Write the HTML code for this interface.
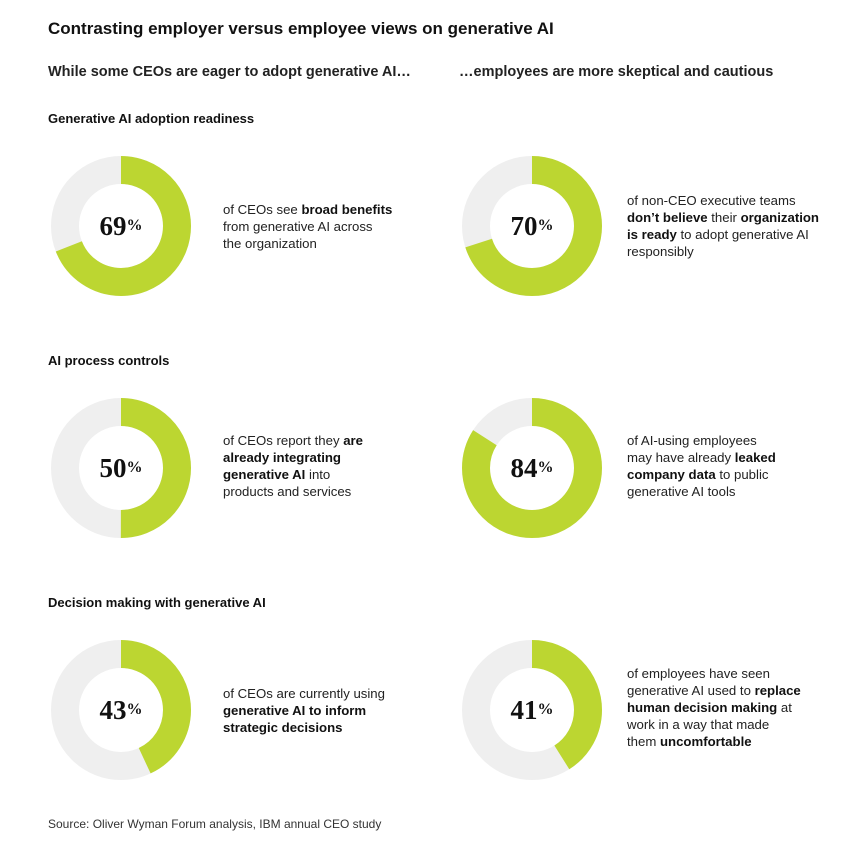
<!DOCTYPE html><html><head><style>
body{margin:0;width:862px;height:846px;background:#fff;font-family:"Liberation Sans",Arial,sans-serif;color:#111;position:relative;overflow:hidden}
.t{position:absolute;white-space:nowrap}
.d{position:absolute;font-size:13.2px;line-height:17px;color:#222}
.d b{color:#111}
.p{position:absolute;font-family:"Liberation Serif",serif;font-weight:bold;font-size:27px;width:100px;text-align:center;color:#111;line-height:30px}
.p small{font-size:16px;vertical-align:5px}
</style></head><body>
<div class="t" style="left:48px;top:19px;font-size:17px;font-weight:bold">Contrasting employer versus employee views on generative AI</div>
<div class="t" style="left:48px;top:64px;font-size:14.5px;font-weight:bold;color:#222">While some CEOs are eager to adopt generative AI…</div>
<div class="t" style="left:459px;top:64px;font-size:14.5px;font-weight:bold;color:#222">…employees are more skeptical and cautious</div>
<div class="t" style="left:48px;top:111px;font-size:13px;font-weight:bold">Generative AI adoption readiness</div>
<div class="t" style="left:48px;top:353px;font-size:13px;font-weight:bold">AI process controls</div>
<div class="t" style="left:48px;top:595px;font-size:13px;font-weight:bold">Decision making with generative AI</div>
<svg width="862" height="846" style="position:absolute;left:0;top:0">
<g fill="none" stroke-width="28">
<circle cx="121" cy="226" r="56" stroke="#efefef"/><circle cx="121" cy="226" r="56" stroke="#bcd631" stroke-dasharray="242.8 400" transform="rotate(-90 121 226)"/>
<circle cx="532" cy="226" r="56" stroke="#efefef"/><circle cx="532" cy="226" r="56" stroke="#bcd631" stroke-dasharray="246.3 400" transform="rotate(-90 532 226)"/>
<circle cx="121" cy="468" r="56" stroke="#efefef"/><circle cx="121" cy="468" r="56" stroke="#bcd631" stroke-dasharray="175.9 400" transform="rotate(-90 121 468)"/>
<circle cx="532" cy="468" r="56" stroke="#efefef"/><circle cx="532" cy="468" r="56" stroke="#bcd631" stroke-dasharray="295.6 400" transform="rotate(-90 532 468)"/>
<circle cx="121" cy="710" r="56" stroke="#efefef"/><circle cx="121" cy="710" r="56" stroke="#bcd631" stroke-dasharray="151.3 400" transform="rotate(-90 121 710)"/>
<circle cx="532" cy="710" r="56" stroke="#efefef"/><circle cx="532" cy="710" r="56" stroke="#bcd631" stroke-dasharray="144.3 400" transform="rotate(-90 532 710)"/>
</g></svg>
<div class="p" style="left:71px;top:211px">69<small>%</small></div>
<div class="p" style="left:482px;top:211px">70<small>%</small></div>
<div class="p" style="left:71px;top:453px">50<small>%</small></div>
<div class="p" style="left:482px;top:453px">84<small>%</small></div>
<div class="p" style="left:71px;top:695px">43<small>%</small></div>
<div class="p" style="left:482px;top:695px">41<small>%</small></div>
<div class="d" style="left:223px;top:201px">of CEOs see <b>broad benefits</b><br>from generative AI across<br>the organization</div>
<div class="d" style="left:627px;top:192px">of non-CEO executive teams<br><b>don’t believe</b> their <b>organization<br>is ready</b> to adopt generative AI<br>responsibly</div>
<div class="d" style="left:223px;top:432px">of CEOs report they <b>are<br>already integrating<br>generative AI</b> into<br>products and services</div>
<div class="d" style="left:627px;top:432px">of AI-using employees<br>may have already <b>leaked<br>company data</b> to public<br>generative AI tools</div>
<div class="d" style="left:223px;top:685px">of CEOs are currently using<br><b>generative AI to inform<br>strategic decisions</b></div>
<div class="d" style="left:627px;top:665px">of employees have seen<br>generative AI used to <b>replace<br>human decision making</b> at<br>work in a way that made<br>them <b>uncomfortable</b></div>
<div class="t" style="left:48px;top:817px;font-size:12px;color:#333">Source: Oliver Wyman Forum analysis, IBM annual CEO study</div>
</body></html>
